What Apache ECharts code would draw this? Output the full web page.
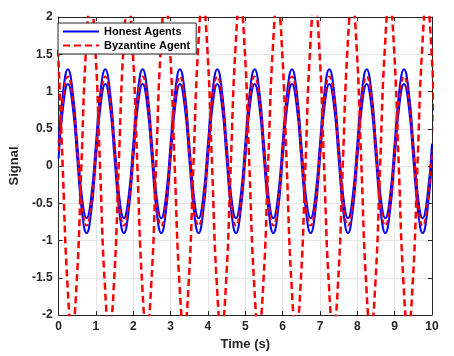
<!DOCTYPE html>
<html>
<head>
<meta charset="utf-8">
<script src="https://cdn.jsdelivr.net/npm/echarts@6/dist/echarts.min.js"></script>
<style>
  html, body { margin: 0; padding: 0; background: #fff; }
  #chart { width: 454px; height: 356px; }
</style>
</head>
<body>
<div id="chart"></div>
<script>
// time samples for the honest agents (eighth of a period)
const tHonest = [
  0, 0.125, 0.25, 0.375, 0.5, 0.625, 0.75, 0.875,
  1, 1.125, 1.25, 1.375, 1.5, 1.625, 1.75, 1.875,
  2, 2.125, 2.25, 2.375, 2.5, 2.625, 2.75, 2.875,
  3, 3.125, 3.25, 3.375, 3.5, 3.625, 3.75, 3.875,
  4, 4.125, 4.25, 4.375, 4.5, 4.625, 4.75, 4.875,
  5, 5.125, 5.25, 5.375, 5.5, 5.625, 5.75, 5.875,
  6, 6.125, 6.25, 6.375, 6.5, 6.625, 6.75, 6.875,
  7, 7.125, 7.25, 7.375, 7.5, 7.625, 7.75, 7.875,
  8, 8.125, 8.25, 8.375, 8.5, 8.625, 8.75, 8.875,
  9, 9.125, 9.25, 9.375, 9.5, 9.625, 9.75, 9.875,
  10
];

// upper honest agent (peaks 1.3, troughs -0.7)
const honestUpper = [
  0.3, 1.01, 1.3, 1.01, 0.3, -0.41, -0.7, -0.41,
  0.3, 1.01, 1.3, 1.01, 0.3, -0.41, -0.7, -0.41,
  0.3, 1.01, 1.3, 1.01, 0.3, -0.41, -0.7, -0.41,
  0.3, 1.01, 1.3, 1.01, 0.3, -0.41, -0.7, -0.41,
  0.3, 1.01, 1.3, 1.01, 0.3, -0.41, -0.7, -0.41,
  0.3, 1.01, 1.3, 1.01, 0.3, -0.41, -0.7, -0.41,
  0.3, 1.01, 1.3, 1.01, 0.3, -0.41, -0.7, -0.41,
  0.3, 1.01, 1.3, 1.01, 0.3, -0.41, -0.7, -0.41,
  0.3, 1.01, 1.3, 1.01, 0.3, -0.41, -0.7, -0.41,
  0.3, 1.01, 1.3, 1.01, 0.3, -0.41, -0.7, -0.41,
  0.3
];

// lower honest agent (peaks 1.1, troughs -0.9)
const honestLower = [
  0.1, 0.81, 1.1, 0.81, 0.1, -0.61, -0.9, -0.61,
  0.1, 0.81, 1.1, 0.81, 0.1, -0.61, -0.9, -0.61,
  0.1, 0.81, 1.1, 0.81, 0.1, -0.61, -0.9, -0.61,
  0.1, 0.81, 1.1, 0.81, 0.1, -0.61, -0.9, -0.61,
  0.1, 0.81, 1.1, 0.81, 0.1, -0.61, -0.9, -0.61,
  0.1, 0.81, 1.1, 0.81, 0.1, -0.61, -0.9, -0.61,
  0.1, 0.81, 1.1, 0.81, 0.1, -0.61, -0.9, -0.61,
  0.1, 0.81, 1.1, 0.81, 0.1, -0.61, -0.9, -0.61,
  0.1, 0.81, 1.1, 0.81, 0.1, -0.61, -0.9, -0.61,
  0.1, 0.81, 1.1, 0.81, 0.1, -0.61, -0.9, -0.61,
  0.1
];

// red dashed curve running between the honest ones (peaks 1.2, troughs -0.8)
const byzMiddle = [
  0.2, 0.91, 1.2, 0.91, 0.2, -0.51, -0.8, -0.51,
  0.2, 0.91, 1.2, 0.91, 0.2, -0.51, -0.8, -0.51,
  0.2, 0.91, 1.2, 0.91, 0.2, -0.51, -0.8, -0.51,
  0.2, 0.91, 1.2, 0.91, 0.2, -0.51, -0.8, -0.51,
  0.2, 0.91, 1.2, 0.91, 0.2, -0.51, -0.8, -0.51,
  0.2, 0.91, 1.2, 0.91, 0.2, -0.51, -0.8, -0.51,
  0.2, 0.91, 1.2, 0.91, 0.2, -0.51, -0.8, -0.51,
  0.2, 0.91, 1.2, 0.91, 0.2, -0.51, -0.8, -0.51,
  0.2, 0.91, 1.2, 0.91, 0.2, -0.51, -0.8, -0.51,
  0.2, 0.91, 1.2, 0.91, 0.2, -0.51, -0.8, -0.51,
  0.2
];

// large byzantine swing, troughs near t = k + 0.36, clipped at +-2
const tByz = [
  -0.015,
  0.11, 0.235, 0.36, 0.485, 0.61, 0.735, 0.86, 0.985,
  1.11, 1.235, 1.36, 1.485, 1.61, 1.735, 1.86, 1.985,
  2.11, 2.235, 2.36, 2.485, 2.61, 2.735, 2.86, 2.985,
  3.11, 3.235, 3.36, 3.485, 3.61, 3.735, 3.86, 3.985,
  4.11, 4.235, 4.36, 4.485, 4.61, 4.735, 4.86, 4.985,
  5.11, 5.235, 5.36, 5.485, 5.61, 5.735, 5.86, 5.985,
  6.11, 6.235, 6.36, 6.485, 6.61, 6.735, 6.86, 6.985,
  7.11, 7.235, 7.36, 7.485, 7.61, 7.735, 7.86, 7.985,
  8.11, 8.235, 8.36, 8.485, 8.61, 8.735, 8.86, 8.985,
  9.11, 9.235, 9.36, 9.485, 9.61, 9.735, 9.86, 9.985,
  10.11
];
const byzSignal = [
  1.56,
  0, -1.56, -2.2, -1.56, 0, 1.56, 2.2, 1.56,
  0, -1.56, -2.2, -1.56, 0, 1.56, 2.2, 1.56,
  0, -1.56, -2.2, -1.56, 0, 1.56, 2.2, 1.56,
  0, -1.56, -2.2, -1.56, 0, 1.56, 2.2, 1.56,
  0, -1.56, -2.2, -1.56, 0, 1.56, 2.2, 1.56,
  0, -1.56, -2.2, -1.56, 0, 1.56, 2.2, 1.56,
  0, -1.56, -2.2, -1.56, 0, 1.56, 2.2, 1.56,
  0, -1.56, -2.2, -1.56, 0, 1.56, 2.2, 1.56,
  0, -1.56, -2.2, -1.56, 0, 1.56, 2.2, 1.56,
  0, -1.56, -2.2, -1.56, 0, 1.56, 2.2, 1.56,
  0
];

const xTicks = [0, 1, 2, 3, 4, 5, 6, 7, 8, 9, 10];
const yTickLabels = ['-2', '-1.5', '-1', '-0.5', '0', '0.5', '1', '1.5', '2'];

const pairs = (xs, ys) => xs.map((x, i) => [x, ys[i]]);

const font = 'Liberation Sans';
const axisColor = '#262626';
const labelStyle = { color: '#262626', fontFamily: font, fontWeight: 'bold', fontSize: 12 };

const baseX = {
  type: 'value',
  min: xTicks[0],
  max: xTicks[xTicks.length - 1],
  interval: 1,
  axisLine: { onZero: false, lineStyle: { color: axisColor, width: 1 } },
  axisTick: { inside: true, length: 4, lineStyle: { color: axisColor } },
}
const baseY = {
  type: 'value',
  min: -2,
  max: 2,
  interval: 0.5,
  axisLine: { onZero: false, lineStyle: { color: axisColor, width: 1 } },
  axisTick: { inside: true, length: 4, lineStyle: { color: axisColor } },
}

const chart = echarts.init(document.getElementById('chart'), null, { renderer: 'canvas' });
chart.setOption({
  animation: false,
  backgroundColor: '#fff',
  grid: { left: 54, top: 17, width: 378, height: 298, containLabel: false },
  legend: {
    data: ['Honest Agents', 'Byzantine Agent'],
    orient: 'vertical',
    left: 58,
    top: 23,
    padding: [3, 6, 3, 4],
    itemGap: 3,
    itemWidth: 36,
    itemHeight: 10,
    borderColor: '#262626',
    borderWidth: 1,
    backgroundColor: '#fff',
    itemStyle: { opacity: 0 },
    textStyle: { color: '#000', fontFamily: font, fontWeight: 'bold', fontSize: 11 },
  },
  xAxis: [
    {
      ...baseX,
      position: 'bottom',
      name: 'Time (s)',
      nameLocation: 'middle',
      nameGap: 20,
      nameTextStyle: { ...labelStyle, fontSize: 13 },
      axisLabel: { ...labelStyle, margin: 6, showMinLabel: true, showMaxLabel: true },
      splitLine: { show: true, lineStyle: { color: '#e6e6e6', width: 1 } },
    },
    {
      ...baseX,
      position: 'top',
      axisLabel: { show: false },
      splitLine: { show: false },
    },
  ],
  yAxis: [
    {
      ...baseY,
      position: 'left',
      name: 'Signal',
      nameLocation: 'middle',
      nameGap: 23,
      nameTextStyle: { ...labelStyle, fontSize: 13 },
      axisLabel: {
        ...labelStyle,
        margin: 6,
        formatter: (v) => yTickLabels[Math.round((v + 2) / 0.5)],
      },
      splitLine: { show: true, lineStyle: { color: '#e6e6e6', width: 1 } },
    },
    {
      ...baseY,
      position: 'right',
      axisLabel: { show: false },
      splitLine: { show: false },
    },
  ],
  series: [
    {
      name: 'Honest Agents',
      type: 'line',
      data: pairs(tHonest, honestUpper),
      smooth: 0.5,
      symbol: 'none',
      lineStyle: { color: '#0000ff', width: 2 },
      itemStyle: { color: '#0000ff' },
    },
    {
      name: 'Honest Agents',
      type: 'line',
      data: pairs(tHonest, honestLower),
      smooth: 0.5,
      symbol: 'none',
      lineStyle: { color: '#0000ff', width: 2 },
      itemStyle: { color: '#0000ff' },
    },
    {
      name: 'Byzantine Estimate',
      type: 'line',
      data: pairs(tHonest, byzMiddle),
      smooth: 0.5,
      symbol: 'none',
      lineStyle: { color: '#ff0000', width: 2, type: [5, 3] },
      itemStyle: { color: '#ff0000' },
    },
    {
      name: 'Byzantine Agent',
      type: 'line',
      data: pairs(tByz, byzSignal),
      smooth: 0.5,
      symbol: 'none',
      lineStyle: { color: '#ff0000', width: 2.5, type: [7, 4] },
      itemStyle: { color: '#ff0000' },
    },
  ],
});
</script>
</body>
</html>
